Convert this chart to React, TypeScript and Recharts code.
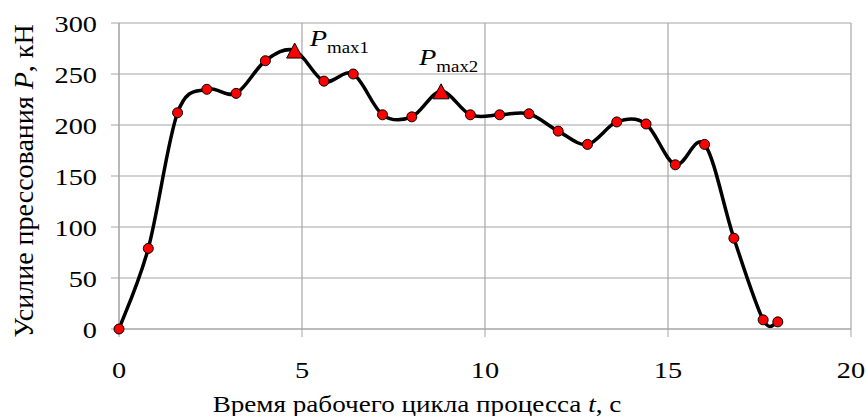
import React from "react";
import { CartesianGrid, Label, Line, LineChart, XAxis, YAxis } from "recharts";

// time, s
const times = [0, 0.8, 1.6, 2.4, 3.2, 4.0, 4.8, 5.6, 6.4, 7.2, 8.0, 8.8, 9.6, 10.4, 11.2, 12.0, 12.8, 13.6, 14.4, 15.2, 16.0, 16.8, 17.6, 18.0];
// pressing force, kN
const forces = [0, 79, 212, 235, 231, 263, 273, 243, 250, 210, 208, 233, 210, 210, 211, 194, 181, 203, 201, 161, 181, 89, 9, 7];
const peakTimes = [4.8, 8.8];
const peakNames = ["max1", "max2"];
const xTicks = [0, 5, 10, 15, 20];
const yTicks = [0, 50, 100, 150, 200, 250, 300];

const data = times.map((t, i) => ({ t, p: forces[i] }));

const FONT = "Liberation Serif, DejaVu Serif, Times New Roman, serif";
const GRID = "#a6a6a6";
// картинка в оригинале чуть растянута по горизонтали
const SX = 1.18;
const stretch = (x: number) => `translate(${x},0) scale(${SX},1) translate(${-x},0)`;

// где ставить подписи P относительно треугольника
const labelShift = [
  { dx: 15, dy: -5 },
  { dx: -22, dy: -26 },
];

// сглаживание как в Excel (Catmull-Rom)
function excelSmooth(context: any) {
  let pts: number[][] = [];
  return {
    areaStart() {},
    areaEnd() {},
    lineStart() {
      pts = [];
    },
    point(x: number, y: number) {
      pts.push([+x, +y]);
    },
    lineEnd() {
      const n = pts.length;
      if (!n) return;
      context.moveTo(pts[0][0], pts[0][1]);
      for (let i = 0; i < n - 1; i++) {
        const p0 = pts[i - 1] || pts[i];
        const p1 = pts[i];
        const p2 = pts[i + 1];
        const p3 = pts[i + 2] || p2;
        context.bezierCurveTo(
          p1[0] + (p2[0] - p0[0]) / 6,
          p1[1] + (p2[1] - p0[1]) / 6,
          p2[0] - (p3[0] - p1[0]) / 6,
          p2[1] - (p3[1] - p1[1]) / 6,
          p2[0],
          p2[1]
        );
      }
    },
  };
}

const PressDot = (props: any) => {
  const { cx, cy, payload, index } = props;
  const k = peakTimes.indexOf(payload.t);
  if (k < 0) {
    return <circle key={index} cx={cx} cy={cy} r={5} fill="#ff0000" stroke="#000" strokeWidth={1} />;
  }
  const s = labelShift[k];
  const lx = cx + s.dx;
  return (
    <g key={index}>
      <polygon
        points={`${cx},${cy - 7.5} ${cx + 8},${cy + 7.5} ${cx - 8},${cy + 7.5}`}
        fill="#ff0000"
        stroke="#000"
        strokeWidth={1}
      />
      <text x={lx} y={cy + s.dy} transform={stretch(lx)} style={{ fontFamily: FONT }} fill="#000">
        <tspan fontSize={24} fontStyle="italic">P</tspan>
        <tspan fontSize={16} dy={7}>{peakNames[k]}</tspan>
      </text>
    </g>
  );
};

const XTick = (props: any) => {
  const { x, y, payload } = props;
  return (
    <text x={x} y={y} dy="0.71em" textAnchor="middle" transform={stretch(x)} style={{ fontFamily: FONT }} fontSize={24} fill="#000">
      {payload.value}
    </text>
  );
};

const YTick = (props: any) => {
  const { x, y, payload } = props;
  return (
    <text x={x} y={y} dy="0.355em" textAnchor="end" transform={stretch(x)} style={{ fontFamily: FONT }} fontSize={24} fill="#000">
      {payload.value}
    </text>
  );
};

const YTitle = (props: any) => {
  const { x, y, height } = props.viewBox;
  const cx = x + 33;
  const cy = y + height / 2 + 5;
  return (
    <text x={cx} y={cy} transform={`rotate(-90, ${cx}, ${cy})`} textAnchor="middle" style={{ fontFamily: FONT }} fontSize={28} fill="#000">
      Усилие прессования <tspan fontStyle="italic">P</tspan>, кН
    </text>
  );
};

const XTitle = (props: any) => {
  const { x, y } = props.viewBox;
  const cx = x + 298;
  return (
    <text x={cx} y={y + 83} textAnchor="middle" transform={stretch(cx)} style={{ fontFamily: FONT }} fontSize={23} fill="#000">
      Время рабочего цикла процесса <tspan fontStyle="italic">t</tspan>, с
    </text>
  );
};

export default function App() {
  return (
    <div style={{ position: "absolute", left: 0, top: 0, background: "#fff", fontFamily: FONT }}>
      <LineChart width={866} height={416} data={data} margin={{ top: 23, right: 15, bottom: 0, left: 0 }}>
        <CartesianGrid stroke={GRID} strokeWidth={1.2} />
        <XAxis
          dataKey="t"
          type="number"
          domain={[0, 20]}
          ticks={xTicks}
          height={87}
          tickSize={8}
          tickMargin={24}
          stroke={GRID}
          tick={<XTick />}
        >
          <Label content={XTitle} />
        </XAxis>
        <YAxis
          type="number"
          domain={[0, 300]}
          ticks={yTicks}
          width={119}
          tickSize={8}
          tickMargin={14}
          stroke={GRID}
          tick={<YTick />}
        >
          <Label content={YTitle} />
        </YAxis>
        <Line
          dataKey="p"
          type={excelSmooth as any}
          stroke="#000"
          strokeWidth={3.5}
          dot={PressDot}
          activeDot={false}
          isAnimationActive={false}
        />
      </LineChart>
    </div>
  );
}
